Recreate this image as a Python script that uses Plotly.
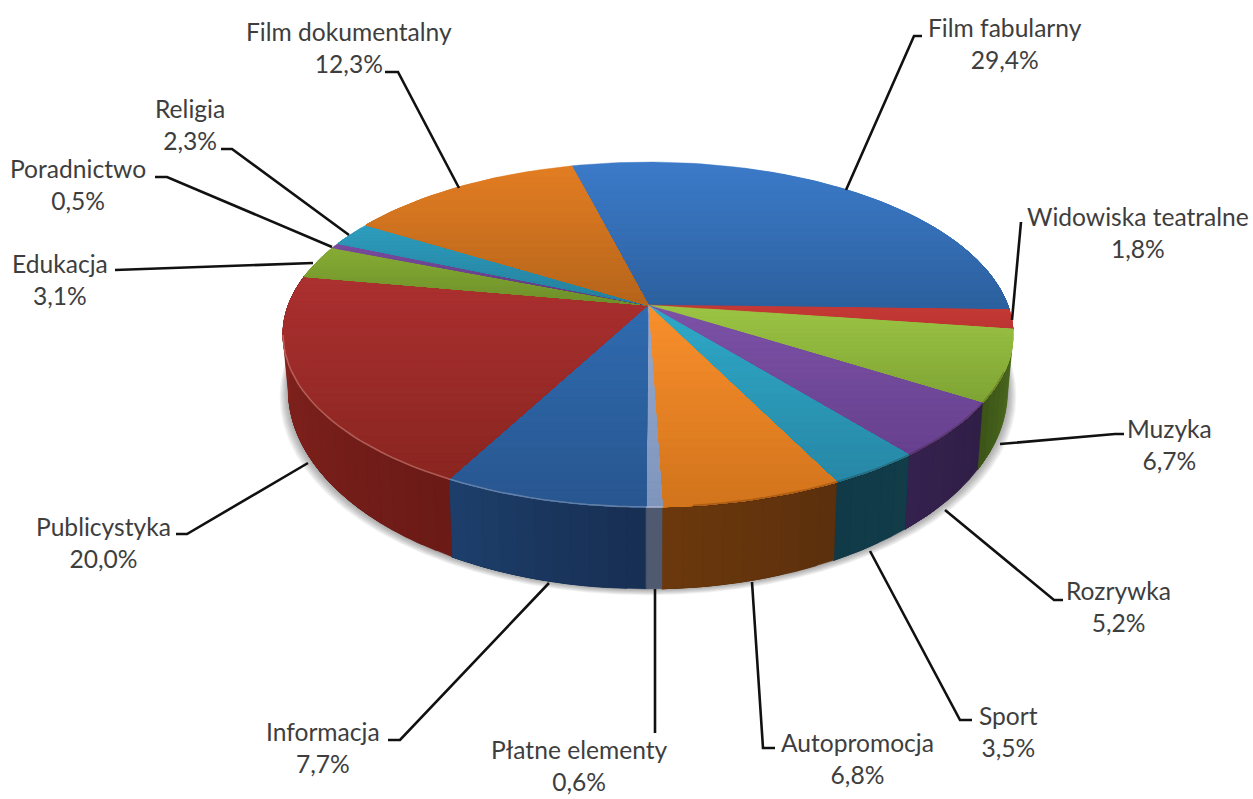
import math
import plotly.graph_objects as go

# Programme shares, clockwise from the top of the pie
categories = ["Film fabularny", "Widowiska teatralne", "Muzyka", "Rozrywka", "Sport",
              "Autopromocja", "Płatne elementy", "Informacja", "Publicystyka",
              "Edukacja", "Poradnictwo", "Religia", "Film dokumentalny"]
shares = [29.4, 1.8, 6.7, 5.2, 3.5, 6.8, 0.6, 7.7, 20.0, 3.1, 0.5, 2.3, 12.3]

# Top-face gradient (upper, lower) and side-wall gradient (start, end) per slice
top_colors = [("#3C7BC9", "#2C609E"), ("#C63A36", "#BC3633"), ("#9CC544", "#7EA334"),
              ("#7C52A6", "#67408F"), ("#2FA9C8", "#2787A6"), ("#F98F2C", "#D2741C"),
              ("#94A9CE", "#7F95BC"), ("#2F6BB0", "#28568F"), ("#AC3030", "#892520"),
              ("#86AD35", "#6F8F2A"), ("#7A4C9E", "#5E3A80"), ("#2E9DBE", "#247F9C"),
              ("#E37D22", "#B5651B")]
wall_colors = [("#2C609E", "#1F4575"), ("#7A1F1C", "#7A1F1C"), ("#50701F", "#3C5518"),
               ("#2E1E45", "#36214F"), ("#123C48", "#103A48"), ("#5C300D", "#6B380C"),
               ("#4F5A70", "#4F5A70"), ("#172E52", "#1D3F6B"), ("#6B1A16", "#8A2520"),
               ("#86AD35", "#6F8F2A"), ("#7A4C9E", "#5E3A80"), ("#2E9DBE", "#247F9C"),
               ("#E37D22", "#B5651B")]

# Pie projection: a tilted disc seen in perspective, in page pixels
CX, CY = 648.0, 305.0
RX, RY, TILT = 359.6, 167.4, 0.171
START_DEG = -14.3
WALL_SHRINK = 0.985

# Label block centres and their leader polylines
label_pos = [(1005, 43), (1138, 232), (1169, 444), (1118, 606), (1008, 731), (857, 758),
             (579, 765), (323, 747), (103, 542), (60, 279), (78, 184), (190, 124), (349, 47)]
leaders = [
    [(846, 190), (914, 36), (922, 36)],
    [(1012, 320), (1021, 222)],
    [(1000, 444), (1115, 434), (1124, 434)],
    [(945, 510), (1054, 600), (1063, 600)],
    [(870, 551), (960, 720), (972, 720)],
    [(752, 582), (763, 748), (775, 748)],
    [(655, 589), (655, 733)],
    [(549, 583), (400, 740), (388, 740)],
    [(308, 463), (187, 534), (176, 534)],
    [(313, 263), (115, 270)],
    [(332, 247), (167, 177), (155, 177)],
    [(349, 235), (232, 149), (221, 149)],
    [(459, 188), (398, 72), (385, 72)],
]


def rim(theta):
    """Point on the top rim for an angle clockwise from the top of the disc."""
    t = math.radians(theta)
    w = 1 + TILT * math.cos(t)
    return CX + RX * math.sin(t) / w, CY - RY * math.cos(t) / w


def base(theta):
    """Matching point on the lower edge of the side wall."""
    x, y = rim(theta)
    return CX + WALL_SHRINK * (x - CX), y + 66 + 0.152 * (y - 402)


def mix(a, b, f):
    ca = [int(a[i:i + 2], 16) for i in (1, 3, 5)]
    cb = [int(b[i:i + 2], 16) for i in (1, 3, 5)]
    return "rgb(%d,%d,%d)" % tuple(round(p + (q - p) * f) for p, q in zip(ca, cb))


def clip_below(poly, y0):
    """Keep the part of a polygon at or below the line y = y0."""
    out = []
    for i, p in enumerate(poly):
        q = poly[(i + 1) % len(poly)]
        if p[1] >= y0:
            out.append(p)
        if (p[1] >= y0) != (q[1] >= y0):
            f = (y0 - p[1]) / (q[1] - p[1])
            out.append((p[0] + f * (q[0] - p[0]), y0))
    return out


def filled(fig, poly, color, edge=0.6):
    xs = [p[0] for p in poly] + [poly[0][0]]
    ys = [p[1] for p in poly] + [poly[0][1]]
    fig.add_trace(go.Scatter(x=xs, y=ys, mode="lines", fill="toself", fillcolor=color,
                             line=dict(color=color, width=edge), hoverinfo="skip",
                             showlegend=False))


fig = go.Figure()

# Slice angle spans derived from the shares
total = sum(shares)
edges = [START_DEG]
for v in shares:
    edges.append(edges[-1] + v / total * 360)
spans = list(zip(edges[:-1], edges[1:]))

# Soft contact shadow under the front of the pie
for i in range(7, 0, -1):
    ring = []
    for d in range(60, 301, 4):
        x, y = base(d)
        ring.append((x + (x - CX) * 0.0035 * i, y + 0.9 * i))
    for d in range(300, 59, -4):
        ring.append(rim(d))
    filled(fig, ring, "rgba(60,60,60,0.07)", edge=0)

# Side walls: each step repaints from its angle to the slice's far edge, so no seams show
for (a, b), (c0, c1) in zip(spans, wall_colors):
    n = max(1, int((b - a) / 2.5))
    for k in range(n):
        t0 = a + (b - a) * k / n
        if math.cos(math.radians(t0 + (b - a) / (2 * n))) > 0.35:
            continue
        steps = [t0 + (b - t0) * j / 12 for j in range(13)]
        upper = [rim(t) for t in steps]
        lower = [base(t) for t in reversed(steps)]
        filled(fig, upper + lower, mix(c0, c1, (k + 0.5) / n), edge=0.4)

# Top face of each slice: bands repaint downward from their own upper edge
BANDS = 24
for (a, b), (c0, c1) in zip(spans, top_colors):
    n = max(2, int((b - a) / 1.5))
    poly = [(CX, CY)] + [rim(a + (b - a) * k / n) for k in range(n + 1)]
    ymin = min(p[1] for p in poly)
    ymax = max(p[1] for p in poly)
    step = (ymax - ymin) / BANDS
    for k in range(BANDS):
        part = clip_below(poly, ymin + k * step)
        if len(part) >= 3:
            filled(fig, part, mix(c0, c1, (k + 0.5) / BANDS), edge=0.4)

# Bevel along the front rim: light on the left, dark on the right
left_rim = [rim(d) for d in range(178, 262, 2)]
fig.add_trace(go.Scatter(x=[p[0] for p in left_rim], y=[p[1] for p in left_rim], mode="lines",
                         line=dict(color="rgba(255,235,225,0.28)", width=1.6),
                         hoverinfo="skip", showlegend=False))
right_rim = [rim(d) for d in range(112, 176, 2)]
fig.add_trace(go.Scatter(x=[p[0] for p in right_rim], y=[p[1] for p in right_rim], mode="lines",
                         line=dict(color="rgba(40,20,0,0.22)", width=2.2),
                         hoverinfo="skip", showlegend=False))

# Leader lines from the rim out to each label
for path in leaders:
    fig.add_trace(go.Scatter(x=[p[0] for p in path], y=[p[1] for p in path], mode="lines",
                             line=dict(color="#111111", width=2.6), hoverinfo="skip",
                             showlegend=False))

# Category name above its percentage, with a decimal comma
for name, value, (lx, ly) in zip(categories, shares, label_pos):
    text = f"{name}<br>{value:.1f}%".replace(".", ",")
    fig.add_annotation(x=lx, y=ly, text=text, showarrow=False, align="center",
                       xanchor="center", yanchor="middle",
                       font=dict(family="Lato", size=24.6, color="#3E3E3E"))

fig.update_xaxes(range=[0, 1253], visible=False, fixedrange=True)
fig.update_yaxes(range=[799, 0], visible=False, fixedrange=True)
fig.update_layout(width=1253, height=799, margin=dict(l=0, r=0, t=0, b=0),
                  paper_bgcolor="white", plot_bgcolor="white", showlegend=False)
fig.write_html("out.html", config={"displayModeBar": False})
